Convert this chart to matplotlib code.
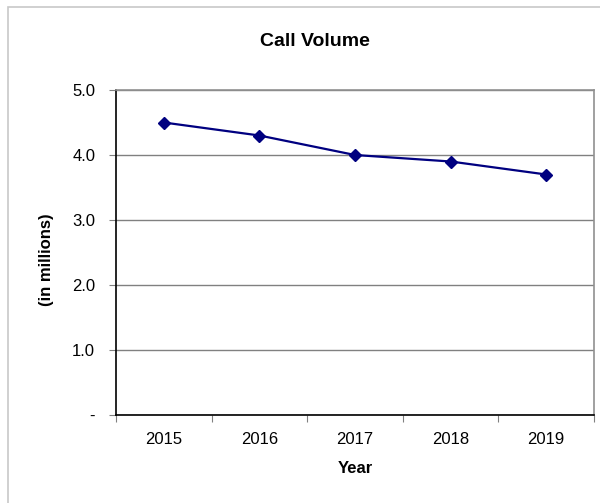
import matplotlib.pyplot as plt
from matplotlib.patches import Rectangle

years = ['2015', '2016', '2017', '2018', '2019']
volume = [4.5, 4.3, 4.0, 3.9, 3.7]
y_ticks = [0, 1, 2, 3, 4, 5]
y_labels = ['-', '1.0', '2.0', '3.0', '4.0', '5.0']

plt.rcParams['font.family'] = ['Liberation Sans', 'DejaVu Sans']

fig = plt.figure(figsize=(6, 5.03), dpi=100)
# light gray chart border (Excel style)
fig.patches.append(Rectangle((8 / 600, -0.01), 1.0, 1 - 7 / 503 + 0.01,
                             transform=fig.transFigure, fill=False,
                             edgecolor='#c8c8c8', linewidth=1.2))

ax = fig.add_axes([116 / 600, 1 - 415 / 503, (594 - 116) / 600, (415 - 90) / 503])
x = list(range(len(years)))
ax.plot(x, volume, color='#000080', linewidth=1.6, marker='D', markersize=6.5,
        zorder=3)

ax.set_xlim(-0.5, len(years) - 0.5)
ax.set_ylim(0, 5)
ax.set_yticks(y_ticks)
ax.set_yticklabels(y_labels, fontsize=12)
ax.set_xticks(x)
ax.set_xticklabels(years, fontsize=12)
ax.tick_params(axis='x', length=0, pad=12)
ax.set_xticks([i - 0.5 for i in range(len(years) + 1)], minor=True)
ax.tick_params(axis='x', which='minor', length=5, width=0.8, color='#808080')
ax.tick_params(axis='y', length=5, width=0.8, color='#808080', pad=10)

ax.grid(axis='y', color='#808080', linewidth=1.0)
ax.set_axisbelow(True)
for s in ['top', 'right']:
    ax.spines[s].set_color('#909090')
    ax.spines[s].set_linewidth(1.2)
for s in ['left', 'bottom']:
    ax.spines[s].set_color('black')
    ax.spines[s].set_linewidth(1.2)

fig.text(315 / 600, 1 - 42 / 503, 'Call Volume', fontsize=14, fontweight='bold',
         ha='center', va='center')
ax.set_xlabel('Year', fontsize=12, fontweight='bold', labelpad=10)
fig.text(47 / 600, 1 - 260 / 503, '(in millions)', fontsize=12, fontweight='bold',
         rotation=90, ha='center', va='center')

fig.savefig('out.png', dpi=100)
